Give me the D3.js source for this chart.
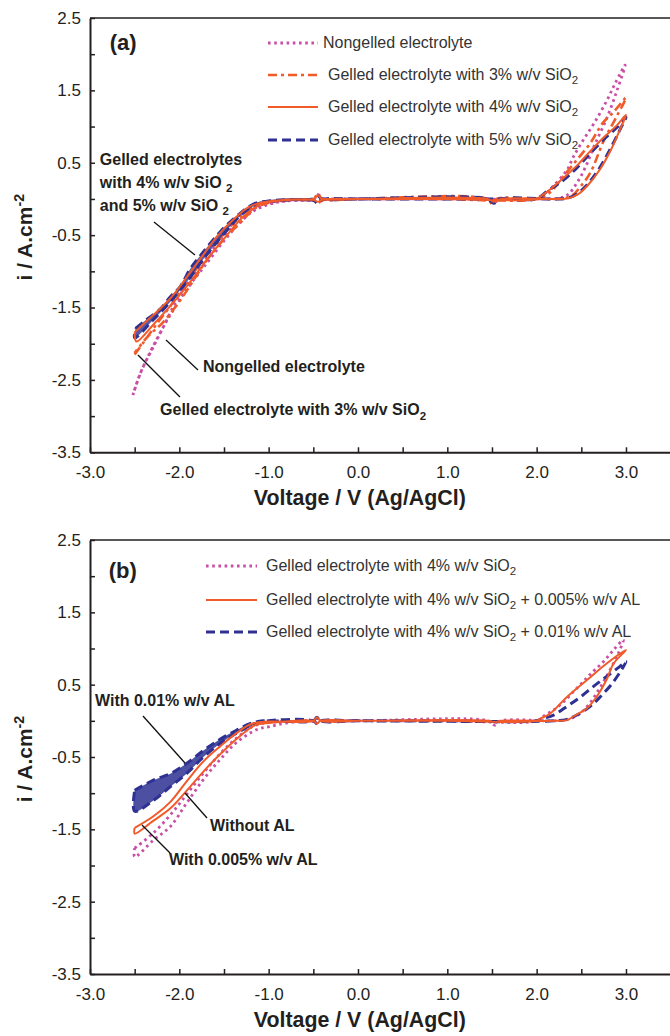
<!DOCTYPE html>
<html>
<head>
<meta charset="utf-8">
<style>
  body { margin: 0; background: #fff; }
  svg { display: block; font-family: "Liberation Sans", Arial, sans-serif; }
  .axis path, .axis line { stroke: #231f20; }
  .axis path { stroke-width: 2; }
  .axis line { stroke-width: 1.5; }
  .axis text { font-size: 17px; fill: #231f20; font-family: "Liberation Sans", Arial, sans-serif; }
  .leader { stroke: #111; stroke-width: 1.3; }
  .note { font-weight: bold; font-size: 16px; fill: #231f20; }
  .legend text { font-size: 16px; fill: #333; }
</style>
<script src="https://cdn.jsdelivr.net/npm/d3@7"></script>
</head>
<body>
<script>
  const width = 670, height = 1036;

  // ticks
  const xTickValues = [-3, -2.5, -2, -1.5, -1, -0.5, 0, 0.5, 1, 1.5, 2, 2.5, 3, 3.5];
  const yTickValues = [-3.5, -3, -2.5, -2, -1.5, -1, -0.5, 0, 0.5, 1, 1.5, 2, 2.5];
  const yTickLabels = [-3.5, -2.5, -1.5, -0.5, 0.5, 1.5, 2.5];

  // panel (a): [voltage, current], one closed CV loop each
  const nongelledA = [[-2.52,-2.71],[-2.42,-2.36],[-2.31,-2.09],[-2.18,-1.77],[-2.03,-1.40],[-1.88,-1.12],[-1.69,-0.80],[-1.47,-0.47],[-1.30,-0.28],[-1.13,-0.14],[-0.95,-0.06],[-0.75,-0.02],[-0.50,-0.01],[-0.45,0.06],[-0.38,0.0],[0,0],[1,0],[1.45,0],[1.52,-0.05],[1.6,0],[2.0,0.0],[2.1,0.07],[2.18,0.17],[2.34,0.40],[2.41,0.58],[2.52,0.81],[2.65,1.06],[2.79,1.37],[2.88,1.60],[2.99,1.85],[2.90,1.50],[2.78,1.10],[2.65,0.75],[2.55,0.45],[2.45,0.22],[2.35,0.06],[2.25,0.01],[2.0,0],[1,0],[0,0],[-0.5,-0.01],[-0.9,-0.04],[-1.1,-0.10],[-1.3,-0.30],[-1.5,-0.58],[-1.7,-0.90],[-1.9,-1.22],[-2.1,-1.60],[-2.3,-2.05],[-2.45,-2.45],[-2.52,-2.71]];
  const gel3A = [[-2.50,-2.15],[-2.40,-1.98],[-2.25,-1.72],[-2.10,-1.48],[-1.95,-1.20],[-1.80,-0.95],[-1.65,-0.70],[-1.50,-0.48],[-1.35,-0.28],[-1.20,-0.13],[-1.05,-0.05],[-0.80,-0.01],[-0.50,0],[-0.45,0.07],[-0.40,0],[0,0],[1,0],[1.5,-0.02],[2.0,0],[2.15,0.09],[2.29,0.30],[2.45,0.54],[2.60,0.77],[2.74,1.05],[2.86,1.20],[3.0,1.40],[2.90,1.15],[2.75,0.80],[2.60,0.36],[2.49,0.17],[2.41,0.06],[2.30,0.01],[2.0,0],[1.55,0],[1.5,-0.07],[1.45,0],[0,0],[-0.40,-0.02],[-0.45,-0.06],[-0.50,-0.02],[-0.90,-0.03],[-1.13,-0.11],[-1.32,-0.33],[-1.51,-0.57],[-1.69,-0.84],[-1.84,-1.12],[-1.99,-1.40],[-2.18,-1.70],[-2.36,-1.91],[-2.50,-2.13]];
  const gel4A = [[-2.50,-1.84],[-2.36,-1.68],[-2.20,-1.50],[-2.05,-1.30],[-1.90,-1.05],[-1.75,-0.80],[-1.58,-0.52],[-1.40,-0.29],[-1.22,-0.11],[-1.05,-0.04],[-0.80,-0.01],[-0.50,0.0],[-0.45,0.05],[-0.40,0.0],[0,0],[1,0],[2.0,0.0],[2.06,0.05],[2.15,0.13],[2.30,0.29],[2.45,0.46],[2.60,0.66],[2.75,0.85],[2.90,1.02],[3.0,1.16],[2.94,0.98],[2.84,0.70],[2.71,0.41],[2.58,0.20],[2.47,0.07],[2.36,0.01],[2.2,0],[1.6,0],[1.52,-0.04],[1.45,0],[0,0],[-0.40,-0.01],[-0.45,-0.04],[-0.50,-0.01],[-0.92,-0.03],[-1.10,-0.08],[-1.28,-0.24],[-1.48,-0.52],[-1.68,-0.82],[-1.88,-1.15],[-2.08,-1.45],[-2.28,-1.72],[-2.48,-1.97],[-2.50,-1.84]];
  const gel5A = [[-2.49,-1.79],[-2.37,-1.67],[-2.22,-1.53],[-2.10,-1.35],[-1.99,-1.21],[-1.88,-0.97],[-1.73,-0.73],[-1.54,-0.45],[-1.36,-0.24],[-1.17,-0.07],[-1.02,-0.03],[-0.80,-0.01],[-0.50,0.0],[-0.45,0.04],[-0.40,0.0],[0,0],[1,0],[1.5,0],[2.0,0.0],[2.04,0.03],[2.11,0.10],[2.30,0.26],[2.45,0.43],[2.60,0.63],[2.74,0.81],[2.90,0.99],[3.0,1.13],[2.93,0.95],[2.82,0.68],[2.69,0.40],[2.56,0.19],[2.45,0.07],[2.34,0.01],[2.2,0.0],[1.6,0.0],[1.52,-0.06],[1.45,0.0],[0,0],[-0.40,-0.01],[-0.45,-0.06],[-0.50,-0.02],[-0.95,-0.03],[-1.12,-0.07],[-1.30,-0.21],[-1.50,-0.48],[-1.70,-0.78],[-1.90,-1.12],[-2.10,-1.42],[-2.30,-1.68],[-2.50,-1.92],[-2.49,-1.79]];

  // panel (b)
  const gel4B = [[-2.50,-1.76],[-2.29,-1.55],[-2.10,-1.30],[-1.92,-1.02],[-1.73,-0.72],[-1.54,-0.45],[-1.36,-0.24],[-1.18,-0.08],[-1.0,-0.02],[-0.5,0],[-0.46,0.04],[-0.42,0],[0,0],[1,0],[2.0,0],[2.07,0.06],[2.19,0.15],[2.30,0.26],[2.41,0.40],[2.52,0.54],[2.63,0.68],[2.75,0.82],[2.86,0.98],[2.97,1.12],[2.92,0.95],[2.82,0.70],[2.70,0.44],[2.58,0.22],[2.46,0.08],[2.35,0.02],[2.2,0],[1.6,0],[1.53,-0.06],[1.46,0],[0,0],[-0.42,0],[-0.46,-0.03],[-0.5,0],[-0.80,-0.03],[-0.99,-0.08],[-1.13,-0.12],[-1.36,-0.30],[-1.54,-0.53],[-1.73,-0.81],[-1.92,-1.14],[-2.10,-1.46],[-2.29,-1.65],[-2.50,-1.88],[-2.50,-1.76]];
  const al005B = [[-2.50,-1.48],[-2.29,-1.32],[-2.10,-1.12],[-1.92,-0.84],[-1.73,-0.56],[-1.54,-0.35],[-1.36,-0.17],[-1.19,-0.04],[-1.0,-0.01],[-0.5,0],[-0.46,0.05],[-0.42,0],[0,0],[1,0],[2.0,0],[2.04,0.03],[2.15,0.10],[2.34,0.33],[2.56,0.56],[2.78,0.79],[3.0,0.98],[2.86,0.79],[2.78,0.56],[2.67,0.33],[2.56,0.17],[2.41,0.06],[2.34,0.01],[2.2,0],[1.6,0],[1.53,-0.02],[1.46,0],[0,0],[-0.42,0],[-0.46,-0.04],[-0.5,0],[-1.0,-0.03],[-1.15,-0.06],[-1.3,-0.19],[-1.5,-0.41],[-1.7,-0.66],[-1.9,-0.94],[-2.1,-1.21],[-2.3,-1.39],[-2.50,-1.56],[-2.50,-1.48]];
  const al01B = [[-2.50,-0.96],[-2.29,-0.82],[-2.10,-0.73],[-1.92,-0.59],[-1.73,-0.41],[-1.54,-0.25],[-1.36,-0.13],[-1.21,-0.04],[-1.06,0],[-0.5,0],[-0.46,0.05],[-0.42,0],[0,0],[1,0],[2.0,0],[2.07,0.03],[2.19,0.08],[2.34,0.20],[2.49,0.33],[2.63,0.47],[2.78,0.61],[2.93,0.75],[3.0,0.82],[2.86,0.54],[2.71,0.33],[2.60,0.20],[2.45,0.08],[2.34,0.02],[2.2,0],[0,0],[-0.42,0],[-0.46,-0.04],[-0.5,0],[-1.1,-0.02],[-1.36,-0.17],[-1.54,-0.31],[-1.73,-0.50],[-1.92,-0.73],[-2.10,-0.91],[-2.29,-1.10],[-2.50,-1.25],[-2.50,-0.96]];

  const magenta = "#c94fa6", orange = "#f15a29", navy = "#2e3192";
  const styles = {
    dotted:  { stroke: magenta, width: 2.8, dash: "2.6,3.6" },
    dashdot: { stroke: orange,  width: 2.6, dash: "9,4,3,4" },
    solid:   { stroke: orange,  width: 2, dash: null },
    dashed:  { stroke: navy,    width: 3, dash: "9,5" }
  };

  const panels = [
    {
      tag: "(a)", top: 18, bottom: 452.3, tagPos: [-2.78, 2.06],
      series: [
        { data: nongelledA, style: "dotted",  label: "Nongelled electrolyte" },
        { data: gel3A,      style: "dashdot", label: "Gelled electrolyte with 3% w/v SiO_{2}" },
        { data: gel5A,      style: "dashed",  label: "Gelled electrolyte with 5% w/v SiO_{2}", band: 0.8 },
        { data: gel4A,      style: "solid",   label: "Gelled electrolyte with 4% w/v SiO_{2}" }
      ],
      legendOrder: [0, 1, 3, 2],
      legend: { x1: 268, x2: 318, tx: [323, 328, 328, 328], ys: [43, 75, 107, 140] },
      notes: [
        { at: [-2.89, 0.47], lines: ["Gelled electrolytes", "with 4% w/v SiO _{2}", "and 5% w/v SiO _{2}"] },
        { at: [-1.735, -2.39], lines: ["Nongelled electrolyte"] },
        { at: [-2.216, -2.985], lines: ["Gelled electrolyte with 3% w/v SiO_{2}"] }
      ],
      leaders: [[-2.284, -0.318, -1.825, -0.774], [-2.149, -1.949, -1.791, -2.363], [-2.463, -2.156, -1.993, -2.736]]
    },
    {
      tag: "(b)", top: 540, bottom: 974, tagPos: [-2.79, 1.975],
      series: [
        { data: gel4B,  style: "dotted", label: "Gelled electrolyte with 4% w/v SiO_{2}" },
        { data: al01B,  style: "dashed", label: "Gelled electrolyte with 4% w/v SiO_{2} + 0.01% w/v AL", band: 0.85 },
        { data: al005B, style: "solid",  label: "Gelled electrolyte with 4% w/v SiO_{2} + 0.005% w/v AL" }
      ],
      legendOrder: [0, 2, 1],
      legend: { x1: 206, x2: 257, tx: [266, 266, 266], ys: [566, 600, 632] },
      notes: [
        { at: [-2.944, 0.205], lines: ["With 0.01% w/v AL"] },
        { at: [-1.657, -1.523], lines: ["Without AL"] },
        { at: [-2.116, -1.993], lines: ["With 0.005% w/v AL"] }
      ],
      leaders: [[-2.407, 0.067, -1.937, -0.583], [-1.937, -0.998, -1.690, -1.344], [-2.418, -1.440, -2.104, -1.827]]
    }
  ];

  const svg = d3.select("body").append("svg")
    .attr("width", width)
    .attr("height", height);

  // writes str into a text element; _{..} = subscript, ^{..} = superscript
  function richText(sel, str, fs) {
    const parts = str.split(/(_\{[^}]*\}|\^\{[^}]*\})/).filter(s => s.length);
    let shift = 0;
    parts.forEach(s => {
      let target = 0, size = fs, txt = s;
      if (s[0] === "_") { target = fs * 0.28; size = fs * 0.72; txt = s.slice(2, -1); }
      else if (s[0] === "^") { target = -fs * 0.4; size = fs * 0.68; txt = s.slice(2, -1); }
      sel.append("tspan").attr("dy", target - shift).attr("font-size", size).text(txt);
      shift = target;
    });
  }

  function applyStyle(sel, st) {
    sel.attr("fill", "none")
      .attr("stroke", st.stroke)
      .attr("stroke-width", st.width)
      .attr("stroke-dasharray", st.dash)
      .attr("stroke-linejoin", "round");
  }

  panels.forEach(p => {
    const x = d3.scaleLinear().domain([-3, 3.5]).range([90, 90 + 6.5 * 89.33]);
    const y = d3.scaleLinear().domain([-3.5, 2.5]).range([p.bottom, p.top]);
    const g = svg.append("g");

    // top frame line
    g.append("line")
      .attr("x1", x(-3)).attr("x2", width)
      .attr("y1", y(2.5)).attr("y2", y(2.5))
      .attr("stroke", "#231f20").attr("stroke-width", 1.5);

    g.append("g").attr("class", "axis")
      .attr("transform", `translate(0,${y(-3.5)})`)
      .call(d3.axisBottom(x).tickValues(xTickValues).tickSize(-5).tickSizeOuter(0).tickPadding(14)
        .tickFormat(d => Number.isInteger(d) && d <= 3 ? d.toFixed(1) : ""));

    g.append("g").attr("class", "axis")
      .attr("transform", `translate(${x(-3)},0)`)
      .call(d3.axisLeft(y).tickValues(yTickValues).tickSize(-5).tickSizeOuter(0).tickPadding(9)
        .tickFormat(d => yTickLabels.includes(d) ? d.toFixed(1) : ""));

    // axis titles
    const yt = g.append("text")
      .attr("transform", `translate(32,${(p.top + p.bottom) / 2 + 2}) rotate(-90)`)
      .attr("text-anchor", "middle")
      .attr("font-weight", "bold")
      .attr("fill", "#231f20");
    richText(yt, "i / A.cm^{-2}", 21);

    g.append("text")
      .attr("x", x(0.02)).attr("y", y(-3.5) + 53)
      .attr("text-anchor", "middle")
      .attr("font-weight", "bold")
      .attr("font-size", 22)
      .attr("textLength", 212)
      .attr("lengthAdjust", "spacingAndGlyphs")
      .attr("fill", "#231f20")
      .text("Voltage / V (Ag/AgCl)");

    // curves
    const line = d3.line()
      .x(d => x(d[0]))
      .y(d => y(d[1]))
      .curve(d3.curveCatmullRom.alpha(0.5));

    p.series.forEach(s => {
      const st = styles[s.style];
      if (s.band) {
        // the noisy cathodic part of the loop shows up as a filled band
        g.append("path")
          .datum(s.data.filter(d => d[0] < -1.0))
          .attr("d", line)
          .attr("fill", st.stroke)
          .attr("fill-opacity", s.band)
          .attr("stroke", "none");
      }
      g.append("path").datum(s.data).attr("d", line).call(applyStyle, st);
    });

    // legend
    const lg = g.append("g").attr("class", "legend");
    p.legendOrder.forEach((si, k) => {
      const s = p.series[si];
      lg.append("line")
        .attr("x1", p.legend.x1).attr("x2", p.legend.x2)
        .attr("y1", p.legend.ys[k]).attr("y2", p.legend.ys[k])
        .call(applyStyle, styles[s.style]);
      const t = lg.append("text")
        .attr("x", p.legend.tx[k]).attr("y", p.legend.ys[k] + 5);
      richText(t, s.label, 16);
    });

    // panel tag
    g.append("text")
      .attr("x", x(p.tagPos[0])).attr("y", y(p.tagPos[1]))
      .attr("font-weight", "bold").attr("font-size", 22).attr("fill", "#231f20")
      .text(p.tag);

    // annotations
    p.notes.forEach(n => {
      n.lines.forEach((ln, k) => {
        const t = g.append("text").attr("class", "note")
          .attr("x", x(n.at[0])).attr("y", y(n.at[1]) + k * 23);
        richText(t, ln, 16);
      });
    });
    p.leaders.forEach(l => {
      g.append("line").attr("class", "leader")
        .attr("x1", x(l[0])).attr("y1", y(l[1]))
        .attr("x2", x(l[2])).attr("y2", y(l[3]));
    });
  });
</script>
</body>
</html>
